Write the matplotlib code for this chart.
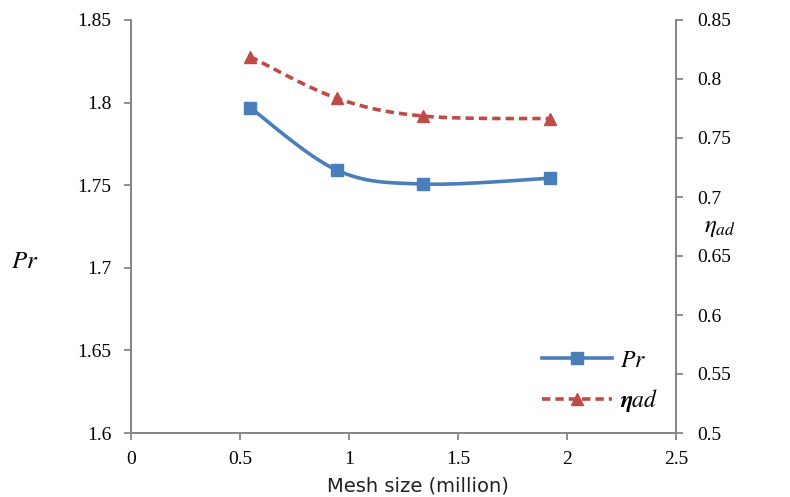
import numpy as np
import matplotlib
matplotlib.use("Agg")
import matplotlib.pyplot as plt
from matplotlib.lines import Line2D

plt.rcParams['font.family'] = ['Liberation Serif', 'DejaVu Serif']
plt.rcParams['mathtext.fontset'] = 'stix'

# Mesh independence data
mesh_size = [0.546, 0.946, 1.34, 1.923]
pr_values = [1.797, 1.759, 1.7507, 1.7542]
eta_values = [0.819, 0.7836, 0.7686, 0.7664]

x_ticks = [0, 0.5, 1, 1.5, 2, 2.5]
x_tick_labels = ['0', '0.5', '1', '1.5', '2', '2.5']
left_ticks = [1.6, 1.65, 1.7, 1.75, 1.8, 1.85]
left_tick_labels = ['1.6', '1.65', '1.7', '1.75', '1.8', '1.85']
right_ticks = [0.5, 0.55, 0.6, 0.65, 0.7, 0.75, 0.8, 0.85]
right_tick_labels = ['0.5', '0.55', '0.6', '0.65', '0.7', '0.75', '0.8', '0.85']

BLUE = '#4A7EBB'
RED = '#BE4B48'
GRAY = '#868686'


def smooth(xs, ys, n=40):
    """Piecewise cubic Bezier through the points (Catmull-Rom style tangents)."""
    pts = np.column_stack([xs, ys]).astype(float)
    ext = np.vstack([pts[0], pts, pts[-1]])
    out = []
    t = np.linspace(0, 1, n)[:, None]
    for i in range(len(pts) - 1):
        p0 = ext[i + 1]
        p3 = ext[i + 2]
        c1 = p0 + (ext[i + 2] - ext[i]) / 6.0
        c2 = p3 - (ext[i + 3] - ext[i + 1]) / 6.0
        seg = ((1 - t) ** 3) * p0 + 3 * ((1 - t) ** 2) * t * c1 + 3 * (1 - t) * t ** 2 * c2 + t ** 3 * p3
        out.append(seg if i == 0 else seg[1:])
    out = np.vstack(out)
    return out[:, 0], out[:, 1]


fig = plt.figure(figsize=(7.9, 4.97), dpi=100)
ax = fig.add_axes([131 / 790, 1 - 433 / 497, 545 / 790, 413 / 497])
ax2 = ax.twinx()

sx, sy = smooth(mesh_size, pr_values)
ax.plot(sx, sy, color=BLUE, lw=2.6, solid_capstyle='round', zorder=3)
ax.plot(mesh_size, pr_values, ls='none', marker='s', ms=8.5, color=BLUE, zorder=4)

ex, ey = smooth(mesh_size, eta_values)
ax2.plot(ex, ey, color=RED, lw=2.6, dashes=(2.3, 1.4), zorder=3)
ax2.plot(mesh_size, eta_values, ls='none', marker='^', ms=9, color=RED, zorder=4)

ax.set_xlim(0, 2.5)
ax.set_ylim(1.6, 1.85)
ax2.set_ylim(0.5, 0.85)

ax.set_xticks(x_ticks)
ax.set_xticklabels(x_tick_labels)
ax.set_yticks(left_ticks)
ax.set_yticklabels(left_tick_labels)
ax2.set_yticks(right_ticks)
ax2.set_yticklabels(right_tick_labels)

for a in (ax, ax2):
    a.spines['top'].set_visible(False)
    for s in ('left', 'right', 'bottom'):
        a.spines[s].set_color(GRAY)
        a.spines[s].set_linewidth(1.3)
    a.tick_params(axis='both', colors=GRAY, labelcolor='black', labelsize=14,
                  length=5, width=1.3, direction='out')
ax.tick_params(axis='y', pad=9)
ax2.tick_params(axis='y', pad=10)
ax.tick_params(axis='x', pad=8)

ax.set_xlabel('Mesh size (million)', fontsize=14, family=['DejaVu Sans'], color='#222222')
ax.xaxis.set_label_coords(0.527, -0.105)

fig.text(25 / 790, 1 - 262 / 497, r'$Pr$', fontsize=18, ha='center', va='center')
fig.text(720 / 790, 1 - 228 / 497, r'$\eta_{ad}$', fontsize=18, ha='center', va='center')

handles = [
    Line2D([], [], color=BLUE, lw=2.6, marker='s', ms=8),
    Line2D([], [], color=RED, lw=2.6, dashes=(2.3, 1.4), marker='^', ms=8.5),
]
labels = [r'$Pr$', r'$\boldsymbol{\eta}\mathit{ad}$']
leg = ax.legend(handles, labels, loc='upper left', bbox_to_anchor=(542 / 790, 1 - 350 / 497),
                bbox_transform=fig.transFigure, frameon=False, fontsize=17,
                handlelength=2.95, handletextpad=0.35, labelspacing=0.65, borderpad=0, borderaxespad=0)

fig.savefig('out.png', dpi=100)
